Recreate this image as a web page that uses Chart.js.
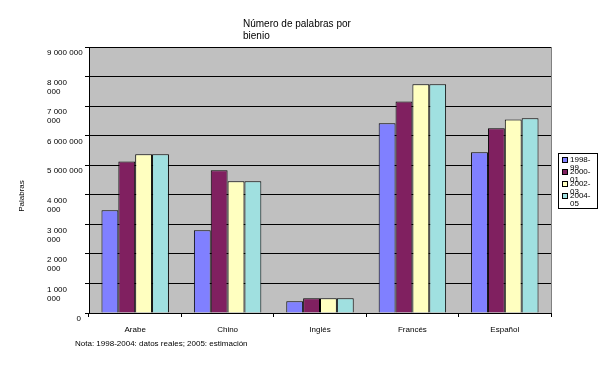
<!DOCTYPE html>
<html>
<head>
<meta charset="utf-8">
<script src="https://cdn.jsdelivr.net/npm/chart.js@4/dist/chart.umd.min.js"></script>
<style>
  html, body { margin: 0; padding: 0; background: #fff; }
  #wrap { width: 602px; height: 377px; }
</style>
</head>
<body>
<div id="wrap"><canvas id="palabras"></canvas></div>
<script>
// categories and series
const idiomas = ['Arabe', 'Chino', 'Inglés', 'Francés', 'Español']
const periodos = [['1998-', '99'], ['2000-', '01'], ['2002-', '03'], ['2004-', '05']]
const serie1998 = [3480000, 2800000, 400000, 6420000, 5440000]
const serie2000 = [5130000, 4830000, 500000, 7160000, 6250000]
const serie2002 = [5370000, 4460000, 500000, 7740000, 6550000]
const serie2004 = [5370000, 4460000, 500000, 7740000, 6590000]
const colores = ['#8080FF', '#802060', '#FFFFC0', '#A0E0E0']
// wrapped y labels as they appear
const yLabels = {
  0: ['0'],
  1000000: ['1 000', '000'],
  2000000: ['2 000', '000'],
  3000000: ['3 000', '000'],
  4000000: ['4 000', '000'],
  5000000: ['5 000 000'],
  6000000: ['6 000 000'],
  7000000: ['7 000', '000'],
  8000000: ['8 000', '000'],
  9000000: ['9 000 000']
}

const font = '"Liberation Sans", Arial, sans-serif'
const series = [serie1998, serie2000, serie2002, serie2004]

const extras = {
  id: 'extras',
  afterDraw(chart) {
    const ctx = chart.ctx
    const y = chart.scales.y
    ctx.save()
    ctx.fillStyle = '#000'
    ctx.textBaseline = 'top'

    // title
    ctx.font = '10px ' + font
    ctx.textAlign = 'left'
    ctx.fillText('Número de palabras por', 243, 19)
    ctx.fillText('bienio', 243, 31)

    // y tick labels
    ctx.font = '8px ' + font
    Object.keys(yLabels).forEach(v => {
      const lines = yLabels[v]
      const py = y.getPixelForValue(Number(v))
      lines.forEach((t, i) => {
        if (Number(v) === 0) {
          ctx.textAlign = 'right'
          ctx.fillText(t, 81, py + 2)
        } else {
          ctx.textAlign = 'left'
          ctx.fillText(t, 47, py + 2 + i * 9)
        }
      })
    })

    // y axis title
    ctx.save()
    ctx.translate(22, 196)
    ctx.rotate(-Math.PI / 2)
    ctx.textAlign = 'center'
    ctx.textBaseline = 'middle'
    ctx.fillText('Palabras', 0, 0)
    ctx.restore()

    // note
    ctx.textAlign = 'left'
    ctx.font = '8px ' + font
    ctx.fillText('Nota: 1998-2004: datos reales; 2005: estimación', 75, 340)

    // legend
    ctx.strokeStyle = '#000'
    ctx.lineWidth = 1
    ctx.strokeRect(558.5, 153.5, 39, 55)
    chart.data.datasets.forEach((ds, i) => {
      const ly = 157 + i * 12
      ctx.fillStyle = ds.backgroundColor
      ctx.fillRect(562, ly, 6, 6)
      ctx.strokeRect(562.5, ly + 0.5, 5, 5)
      ctx.fillStyle = '#000'
      ctx.fillText(periodos[i][0], 570, ly - 1)
      ctx.fillText(periodos[i][1], 570, ly + 7)
    })
    ctx.restore()
  }
}

const plotBg = {
  id: 'plotBg',
  beforeDraw(chart) {
    const a = chart.chartArea
    const ctx = chart.ctx
    ctx.save()
    ctx.fillStyle = '#C0C0C0'
    ctx.fillRect(a.left, a.top, a.right - a.left, a.bottom - a.top)
    ctx.strokeStyle = '#808080'
    ctx.beginPath()
    ctx.moveTo(a.right + 0.5, a.top)
    ctx.lineTo(a.right + 0.5, a.bottom)
    ctx.stroke()
    ctx.restore()
  }
}

const data = {
  labels: idiomas,
  datasets: series.map((s, i) => ({
    label: periodos[i].join(''),
    data: s,
    backgroundColor: colores[i],
    borderColor: '#000',
    borderWidth: 1,
    borderSkipped: 'bottom',
    barPercentage: 1,
    categoryPercentage: 0.73
  }))
}

const config = {
  type: 'bar',
  data: data,
  options: {
    responsive: false,
    animation: false,
    layout: { padding: { left: 47, top: 47, right: 51, bottom: 0 } },
    plugins: {
      legend: { display: false },
      title: { display: false },
      tooltip: { enabled: false }
    },
    scales: {
      x: {
        grid: { display: true, drawOnChartArea: false, offset: true, tickLength: 4, color: '#000' },
        border: { color: '#000' },
        ticks: { color: '#000', font: { family: font, size: 8 }, padding: 8, maxRotation: 0 },
        afterFit: s => { s.height = 64 }
      },
      y: {
        min: 0,
        max: 9000000,
        grid: { color: '#000', tickLength: 4 },
        border: { color: '#000' },
        ticks: { stepSize: 1000000, display: false },
        afterFit: s => { s.width = 42 }
      }
    }
  },
  plugins: [plotBg, extras]
}

const canvas = document.getElementById('palabras')
canvas.width = 602
canvas.height = 377
const myChart = new Chart(canvas, config)
</script>
</body>
</html>
